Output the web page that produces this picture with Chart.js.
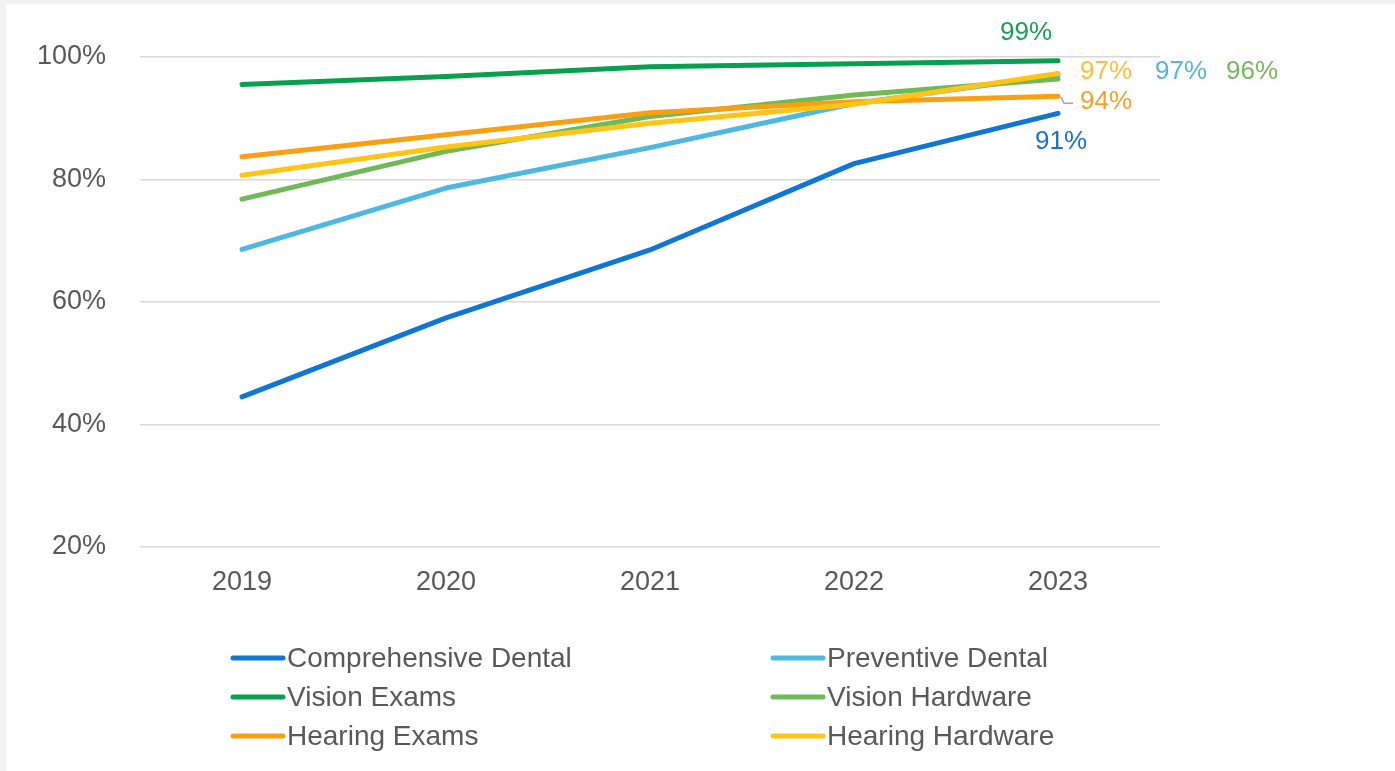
<!DOCTYPE html>
<html>
<head>
<meta charset="utf-8">
<title>Benefit utilization</title>
<script src="https://cdn.jsdelivr.net/npm/chart.js@4.4.1/dist/chart.umd.min.js"></script>
<style>
  html, body { margin: 0; padding: 0; background: #f2f2f2; }
  #wrap { position: absolute; left: 6px; top: 4px; width: 1389px; height: 767px; background: #fff; }
  canvas { display: block; }
</style>
</head>
<body>
<div id="wrap"><canvas id="benefitChart" width="1389" height="767"></canvas></div>
<script>
// Share of plans offering each benefit, by year
const years = ['2019', '2020', '2021', '2022', '2023'];
const comprehensiveDental = [44.5, 57.4, 68.5, 82.6, 90.8];
const preventiveDental = [68.6, 78.6, 85.2, 92.4, 97.0];
const visionExams = [95.5, 96.8, 98.4, 98.9, 99.4];
const visionHardware = [76.8, 84.6, 90.3, 93.8, 96.4];
const hearingExams = [83.7, 87.3, 90.9, 92.7, 93.6];
const hearingHardware = [80.7, 85.3, 89.2, 92.3, 97.3];
const yTicks = [20, 40, 60, 80, 100];

const textGray = '#595959';
const font = 'Liberation Sans, Arial, sans-serif';

// end-of-line label placement (offset from the 2023 point) and colour
function series(label, data, color, labelColor, dx, dy, order, leader) {
    return {
        label: label,
        data: data,
        borderColor: color,
        backgroundColor: color,
        borderWidth: 5,
        borderCapStyle: 'round',
        borderJoinStyle: 'round',
        pointRadius: 0,
        tension: 0,
        order: order,
        endLabel: { color: labelColor, dx: dx, dy: dy, leader: leader }
    };
}

const datasets = [
    series('Comprehensive Dental', comprehensiveDental, '#0f77d3', '#1a72c9', 3, 28, 0),
    series('Preventive Dental', preventiveDental, '#4db8e2', '#58b4da', 123, -4, 5),
    series('Vision Exams', visionExams, '#07a04f', '#1c9e58', -32, -28, 1),
    series('Vision Hardware', visionHardware, '#6fba57', '#77b85b', 194, -7, 4),
    series('Hearing Exams', hearingExams, '#f8a012', '#f5a22a', 48, 6, 3, true),
    series('Hearing Hardware', hearingHardware, '#ffc414', '#f8c13c', 48, -2, 2)
];

// value labels next to the last point of each line
const endLabels = {
    id: 'endLabels',
    afterDatasetsDraw(chart) {
        const ctx = chart.ctx;
        ctx.save();
        ctx.font = '26px ' + font;
        ctx.textAlign = 'center';
        ctx.textBaseline = 'middle';
        chart.data.datasets.forEach((ds, i) => {
            const pts = chart.getDatasetMeta(i).data;
            const last = pts[pts.length - 1];
            const value = ds.data[ds.data.length - 1];
            const opt = ds.endLabel;
            if (opt.leader) {
                ctx.strokeStyle = '#a6a6a6';
                ctx.lineWidth = 1.5;
                ctx.beginPath();
                ctx.moveTo(last.x + 3, last.y + 1);
                ctx.lineTo(last.x + 6, last.y + 7);
                ctx.lineTo(last.x + 15, last.y + 7);
                ctx.stroke();
            }
            ctx.fillStyle = opt.color;
            ctx.fillText(Math.round(value) + '%', last.x + opt.dx, last.y + opt.dy);
        });
        ctx.restore();
    }
};

// two-column legend below the axis
const columnLegend = {
    id: 'columnLegend',
    afterDraw(chart) {
        const ctx = chart.ctx;
        const colX = [224, 764];
        const rowY = [654, 693, 732];
        ctx.save();
        ctx.font = '28px ' + font;
        ctx.textBaseline = 'middle';
        ctx.textAlign = 'left';
        chart.data.datasets.forEach((ds, i) => {
            const x = colX[i % 2];
            const y = rowY[Math.floor(i / 2)];
            ctx.strokeStyle = ds.borderColor;
            ctx.lineWidth = 5;
            ctx.lineCap = 'round';
            ctx.beginPath();
            ctx.moveTo(x + 3, y);
            ctx.lineTo(x + 53, y);
            ctx.stroke();
            ctx.fillStyle = textGray;
            ctx.fillText(ds.label, x + 57, y + 1);
        });
        ctx.restore();
    }
};

const config = {
    type: 'line',
    data: { labels: years, datasets: datasets },
    options: {
        responsive: false,
        animation: false,
        devicePixelRatio: 1,
        layout: { padding: { left: 31, top: 53, right: 235, bottom: 164 } },
        plugins: {
            legend: { display: false },
            tooltip: { enabled: false }
        },
        scales: {
            x: {
                offset: true,
                grid: { display: false, drawTicks: false },
                border: { display: false },
                ticks: { color: textGray, font: { family: font, size: 27 }, padding: 19 },
                afterFit(scale) { scale.height = 60; }
            },
            y: {
                min: 20,
                max: 100,
                grid: { color: '#d9d9d9', lineWidth: 1.5, drawTicks: false },
                border: { display: false },
                ticks: {
                    color: textGray,
                    font: { family: font, size: 27 },
                    padding: 34,
                    callback: v => v + '%'
                },
                afterBuildTicks(scale) { scale.ticks = yTicks.map(v => ({ value: v })); },
                afterFit(scale) { scale.width = 103; }
            }
        }
    },
    plugins: [endLabels, columnLegend]
};

const ctx = document.getElementById('benefitChart').getContext('2d');
const benefitChart = new Chart(ctx, config);
</script>
</body>
</html>
